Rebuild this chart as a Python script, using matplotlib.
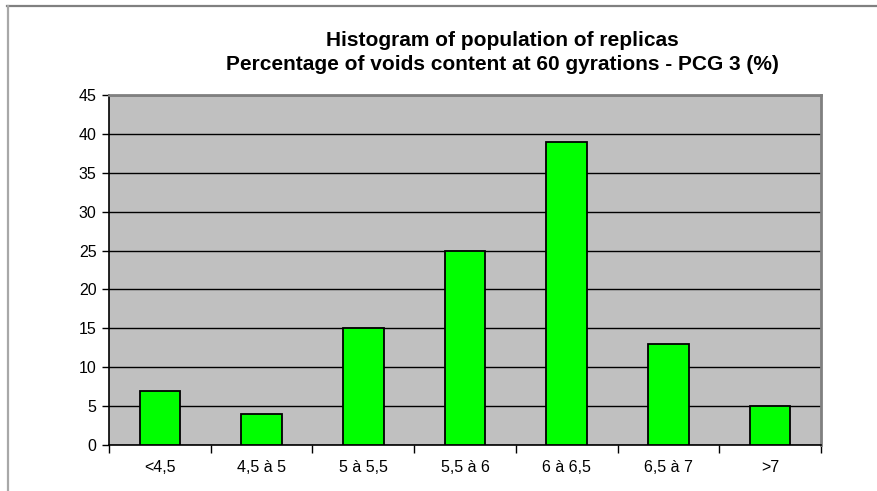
import matplotlib
matplotlib.use("Agg")
import matplotlib.pyplot as plt
from matplotlib.lines import Line2D

categories = ["<4,5", "4,5 à 5", "5 à 5,5", "5,5 à 6", "6 à 6,5", "6,5 à 7", ">7"]
counts = [7, 4, 15, 25, 39, 13, 5]
y_ticks = [0, 5, 10, 15, 20, 25, 30, 35, 40, 45]
title_lines = ["Histogram of population of replicas",
               "Percentage of voids content at 60 gyrations - PCG 3 (%)"]

plt.rcParams["font.family"] = ["Liberation Sans", "DejaVu Sans"]

fig = plt.figure(figsize=(8.77, 4.91), dpi=100)
fig.patch.set_facecolor("white")

# outer chart frame (top and left edges)
fig.add_artist(Line2D([7 / 877, 1.0], [1 - 5.5 / 491, 1 - 5.5 / 491],
                      transform=fig.transFigure, color="#808080", lw=1.6))
fig.add_artist(Line2D([7.5 / 877, 7.5 / 877], [0.0, 1 - 5.5 / 491],
                      transform=fig.transFigure, color="#a8a8a8", lw=1.6))

left, right, top, bottom = 109, 821, 95, 445
ax = fig.add_axes([left / 877, 1 - bottom / 491,
                   (right - left) / 877, (bottom - top) / 491])
ax.set_facecolor("#c0c0c0")

x = list(range(len(categories)))
ax.bar(x, counts, width=0.4, color="#00ff00", edgecolor="black",
       linewidth=1.3, zorder=3)

ax.set_xlim(-0.5, len(categories) - 0.5)
ax.set_ylim(0, 45)
ax.set_yticks(y_ticks)
ax.set_yticklabels([str(v) for v in y_ticks], fontsize=11.5)
ax.yaxis.grid(True, color="black", linewidth=1.0, zorder=1)
ax.set_axisbelow(True)

ax.set_xticks(x)
ax.set_xticklabels(categories, fontsize=11.5)
ax.tick_params(axis="x", length=0, pad=11)
ax.set_xticks([i - 0.5 for i in range(len(categories) + 1)], minor=True)
ax.tick_params(axis="x", which="minor", length=6, width=1, direction="out")
ax.tick_params(axis="y", length=5, width=1, direction="out", pad=4)

for side in ("left", "bottom"):
    ax.spines[side].set_color("black")
    ax.spines[side].set_linewidth(1.2)
for side in ("right", "top"):
    ax.spines[side].set_color("#808080")
    ax.spines[side].set_linewidth(2.0)

fig.text(502 / 877, 1 - 40 / 491, title_lines[0], ha="center", va="center",
         fontsize=15, fontweight="bold")
fig.text(502 / 877, 1 - 64 / 491, title_lines[1], ha="center", va="center",
         fontsize=15, fontweight="bold")

fig.savefig("out.png", dpi=100)
